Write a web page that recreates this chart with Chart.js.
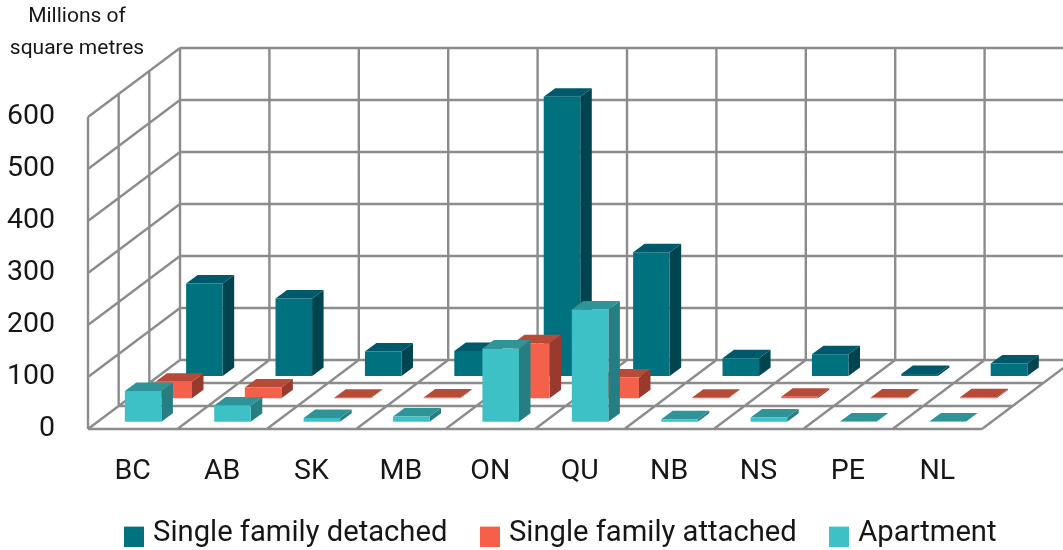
<!DOCTYPE html>
<html>
<head>
<meta charset="utf-8">
<style>html,body{margin:0;padding:0;background:#fff;overflow:hidden}canvas{display:block}</style>
<script src="https://cdn.jsdelivr.net/npm/chart.js@4"></script>
</head>
<body>
<canvas id="chart" width="1063" height="550"></canvas>
<script>
// Floor area by province, millions of square metres
const provinces = ['BC','AB','SK','MB','ON','QU','NB','NS','PE','NL'];
const singleDetached = [178,149,47,48,537,238,34,42,4,24];
const singleAttached = [32,21,1,1.5,106,40,1,3,1.5,2];
const apartment = [59,31,7,10,141,216,4.5,8,0.5,0.5];
const yTicks = [0,100,200,300,400,500,600];
const unitLines = ['Millions of','square metres'];

// Face colours for each series: front, side, top
const frontColors = ['#00717f','#f4604a','#3dc1c6'];
const sideColors = ['#00444f','#983a2d','#267e82'];
const topColors = ['#00596a','#b84a38','#2e9498'];

// Oblique projection of the box: wall depth, bar depth, per-series floor offsets
const WALL_DX = 92, WALL_DY = 69;
const BAR_DX = 11.5, BAR_DY = 8.5;
const SERIES_DX = [71.7,41,10.4], SERIES_DY = [53,30.7,7.3];
const GRID = '#8c8c8c';
const TEXT = '#161616';
const FONT = 'Roboto';

function seg(ctx,x1,y1,x2,y2){ctx.moveTo(x1,y1);ctx.lineTo(x2,y2);}
function poly(ctx,pts,fill){
  ctx.beginPath();ctx.moveTo(pts[0],pts[1]);
  for(let i=2;i<pts.length;i+=2)ctx.lineTo(pts[i],pts[i+1]);
  ctx.closePath();ctx.fillStyle=fill;ctx.fill();
}

// Walls and floor are drawn from the scales, so they follow the axis ticks
const walls = {
  id:'walls',
  beforeDatasetsDraw(chart){
    const {ctx,scales:{x,y},chartArea:a}=chart;
    const step=x.getPixelForValue(1)-x.getPixelForValue(0);
    const left=a.left,right=a.right,floor=y.getPixelForValue(0),top=y.getPixelForValue(600);
    ctx.save();
    ctx.strokeStyle=GRID;ctx.lineWidth=2.4;ctx.beginPath();
    yTicks.forEach(v=>{
      const py=y.getPixelForValue(v);
      seg(ctx,left,py,left+WALL_DX,py-WALL_DY);
      seg(ctx,left+WALL_DX,py-WALL_DY,right+WALL_DX,py-WALL_DY);
    });
    seg(ctx,left,top,left,floor);
    for(let k=0;k<=provinces.length;k++){
      const fx=left+k*step;
      seg(ctx,fx,floor,fx+WALL_DX,floor-WALL_DY);
      seg(ctx,fx+WALL_DX,floor-WALL_DY,fx+WALL_DX,top-WALL_DY);
    }
    for(let d=1;d<=2;d++){
      const dx=WALL_DX*d/3,dy=WALL_DY*d/3;
      seg(ctx,left+dx,top-dy,left+dx,floor-dy);
      seg(ctx,left+dx,floor-dy,right+dx,floor-dy);
    }
    seg(ctx,left,floor,right,floor);
    ctx.stroke();
    ctx.restore();
  },
  beforeDatasetDraw(chart,args){
    const {ctx}=chart;
    const i=args.index;
    const ox=SERIES_DX[i],oy=SERIES_DY[i];
    args.meta.data.forEach(bar=>{
      const p=bar.getProps(['x','y','base','width'],true);
      const l=p.x-p.width/2+ox,r=p.x+p.width/2+ox,t=p.y-oy,b=p.base-oy;
      poly(ctx,[r,t,r+BAR_DX,t-BAR_DY,r+BAR_DX,b-BAR_DY,r,b],sideColors[i]);
      poly(ctx,[l,t,r,t,r+BAR_DX,t-BAR_DY,l+BAR_DX,t-BAR_DY],topColors[i]);
      poly(ctx,[l,t,r,t,r,b,l,b],frontColors[i]);
    });
    return false;
  },
  afterDraw(chart){
    const {ctx}=chart;
    ctx.save();
    ctx.fillStyle=TEXT;ctx.font='21px '+FONT;ctx.textAlign='center';ctx.textBaseline='middle';
    ctx.fillText(unitLines[0],77,17);
    ctx.fillText(unitLines[1],77,49);
    ctx.restore();
  }
};

// Legend swatch sits a little below the centre of its text line
function swatch(color){
  const c=document.createElement('canvas');
  c.width=20;c.height=26;
  const g=c.getContext('2d');
  g.fillStyle=color;g.fillRect(0,6,20,20);
  return c;
}

// Reserves a short strip for the legend, then places its row under the category labels
const legendRow = {
  id:'legendRow',
  beforeLayout(chart){
    const l=chart.legend, fit=Object.getPrototypeOf(l).fit;
    l.fit=function(){fit.call(this);this.height=40;};
  },
  afterLayout(chart){
    const l=chart.legend;
    const shiftX=91.5;
    l.left+=shiftX;l.right+=shiftX;
    l.top=519-38;l.bottom=chart.height;
  }
};

new Chart(document.getElementById('chart'),{
  type:'bar',
  data:{
    labels:provinces,
    datasets:[
      {label:'Single family detached',data:singleDetached,backgroundColor:frontColors[0],order:2},
      {label:'Single family attached',data:singleAttached,backgroundColor:frontColors[1],order:1},
      {label:'Apartment',data:apartment,backgroundColor:frontColors[2],order:0}
    ]
  },
  plugins:[walls,legendRow],
  options:{
    responsive:false,
    animation:false,
    grouped:false,
    barPercentage:0.409,
    categoryPercentage:1,
    layout:{padding:{top:117,left:0,right:81,bottom:0}},
    scales:{
      x:{
        grid:{display:false,drawTicks:false},border:{display:false},
        ticks:{color:TEXT,font:{family:FONT,size:28.5},padding:26,maxRotation:0,autoSkip:false},
        afterFit(s){s.height=81;}
      },
      y:{
        min:0,max:600,
        grid:{display:false,drawTicks:false},border:{display:false},
        ticks:{stepSize:100,color:TEXT,font:{family:FONT,size:28.5},padding:33},
        afterFit(s){s.width=88;}
      }
    },
    plugins:{
      tooltip:{enabled:false},
      legend:{
        position:'bottom',
        align:'start',
        labels:{
          color:TEXT,
          font:{family:FONT,size:29.2},
          usePointStyle:true,
          pointStyleWidth:9,
          padding:38,
          sort:(a,b)=>a.datasetIndex-b.datasetIndex,
          generateLabels(chart){
            return Chart.defaults.plugins.legend.labels.generateLabels(chart).map(item=>{
              item.pointStyle=swatch(frontColors[item.datasetIndex]);
              return item;
            });
          }
        }
      }
    }
  }
});
</script>
</body>
</html>
